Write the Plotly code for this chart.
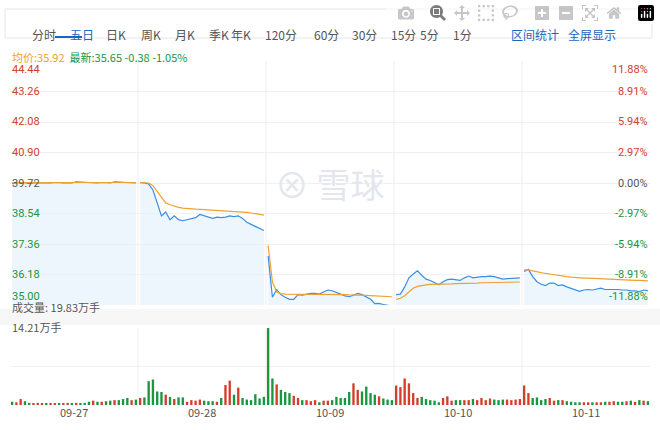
import plotly.graph_objects as go

# five trading days, 30 samples each
days = ["09-27", "09-28", "10-09", "10-10", "10-11"]
per_day = 30

price = [
    [39.70, 39.72, 39.74, 39.73, 39.70, 39.72, 39.72, 39.73, 39.71, 39.72, 39.74, 39.72, 39.72, 39.73, 39.72,
     39.76, 39.75, 39.74, 39.73, 39.74, 39.72, 39.74, 39.73, 39.72, 39.76, 39.75, 39.74, 39.73, 39.74, 39.72],
    [39.73, 39.72, 39.68, 39.45, 38.95, 38.45, 38.60, 38.30, 38.45, 38.30, 38.26, 38.30, 38.35, 38.38, 38.50,
     38.45, 38.38, 38.35, 38.40, 38.38, 38.40, 38.45, 38.42, 38.45, 38.35, 38.20, 38.12, 38.05, 37.98, 37.88],
    [36.90, 35.30, 35.60, 35.40, 35.30, 35.22, 35.22, 35.40, 35.38, 35.42, 35.45, 35.45, 35.42, 35.50, 35.58,
     35.55, 35.50, 35.42, 35.35, 35.32, 35.38, 35.45, 35.40, 35.32, 35.22, 35.05, 35.06, 35.02, 34.98, 34.96],
    [35.40, 35.42, 35.70, 36.05, 36.20, 36.32, 36.15, 36.00, 35.95, 35.85, 35.78, 35.90, 35.98, 36.00, 35.98,
     35.95, 36.05, 36.12, 36.05, 36.08, 36.10, 36.10, 36.12, 36.10, 36.05, 36.00, 36.02, 36.03, 36.04, 36.05],
    [36.30, 36.38, 36.10, 35.90, 35.80, 35.75, 35.85, 35.85, 35.75, 35.78, 35.70, 35.65, 35.58, 35.53, 35.58,
     35.60, 35.58, 35.62, 35.65, 35.60, 35.60, 35.62, 35.60, 35.58, 35.58, 35.55, 35.55, 35.52, 35.58, 35.56],
]
avg_price = [
    [39.74] * 30,
    [39.74, 39.74, 39.72, 39.62, 39.40, 39.15, 38.95, 38.88, 38.82, 38.78, 38.75, 38.73, 38.72, 38.71, 38.70,
     38.69, 38.68, 38.68, 38.67, 38.66, 38.65, 38.64, 38.63, 38.62, 38.60, 38.58, 38.56, 38.53, 38.51, 38.48],
    [37.30, 35.90, 35.50, 35.44, 35.42, 35.42, 35.42, 35.42, 35.42, 35.42, 35.42, 35.42, 35.41, 35.41, 35.41,
     35.41, 35.40, 35.40, 35.40, 35.39, 35.39, 35.38, 35.38, 35.37, 35.36, 35.35, 35.34, 35.33, 35.33, 35.32],
    [35.22, 35.26, 35.36, 35.50, 35.65, 35.72, 35.76, 35.78, 35.80, 35.80, 35.80, 35.81, 35.82, 35.82, 35.83,
     35.83, 35.84, 35.84, 35.85, 35.85, 35.86, 35.86, 35.86, 35.87, 35.87, 35.88, 35.88, 35.88, 35.89, 35.89],
    [36.36, 36.36, 36.32, 36.28, 36.24, 36.22, 36.20, 36.17, 36.14, 36.12, 36.10, 36.08, 36.06, 36.05, 36.04,
     36.04, 36.03, 36.02, 36.02, 36.01, 36.00, 36.00, 35.99, 35.98, 35.97, 35.96, 35.95, 35.95, 35.94, 35.93],
]
volume = [
    [0.6, 0.5, 1.1, 0.7, 0.4, 0.3, 0.4, 0.3, 0.3, 0.3, 0.3, 0.3, 0.3, 0.4, 0.3,
     0.4, 0.3, 0.4, 0.6, 0.8, 0.6, 0.6, 0.7, 0.8, 0.9, 0.9, 1.1, 1.3, 0.9, 1.0],
    [1.3, 1.4, 4.4, 4.7, 2.5, 2.4, 1.9, 1.5, 1.1, 1.4, 1.4, 0.6, 0.9, 0.8, 1.0,
     0.8, 0.7, 0.7, 0.6, 1.3, 3.7, 4.5, 1.9, 3.2, 1.3, 1.0, 0.9, 2.0, 1.2, 1.5],
    [14.2, 4.9, 3.8, 2.8, 2.4, 2.2, 1.7, 1.3, 0.9, 0.9, 0.7, 0.9, 0.5, 0.8, 0.8,
     0.9, 1.5, 1.3, 1.3, 2.4, 4.0, 2.8, 2.5, 3.4, 2.2, 1.9, 1.6, 1.2, 1.0, 0.9],
    [3.6, 3.3, 4.9, 4.0, 2.2, 1.3, 1.5, 1.1, 0.9, 0.8, 0.5, 1.3, 1.6, 0.8, 0.9,
     0.9, 0.9, 0.9, 1.1, 0.9, 1.3, 0.9, 1.2, 1.0, 0.9, 1.0, 1.0, 0.9, 1.0, 1.1],
    [3.6, 2.2, 1.3, 1.4, 0.9, 1.1, 1.3, 0.8, 0.9, 0.9, 0.7, 0.6, 0.5, 0.5, 0.5,
     0.5, 0.5, 0.5, 0.5, 0.6, 0.6, 0.7, 0.6, 0.6, 0.7, 0.8, 0.6, 0.9, 0.8, 0.7],
]
prev_close = 39.72
price_ticks = [44.44, 43.26, 42.08, 40.90, 39.72, 38.54, 37.36, 36.18, 35.00]
pct_ticks = ["11.88%", "8.91%", "5.94%", "2.97%", "0.00%", "-2.97%", "-5.94%", "-8.91%", "-11.88%"]
tabs = ["分时", "五日", "日K", "周K", "月K", "季K", "年K", "120分", "60分", "30分", "15分", "5分", "1分"]
tab_x = [30, 68, 104, 139, 173, 207, 241, 281, 326, 365, 403, 441, 474]

RED, GREEN, GRAY = "#d0402b", "#1a9641", "#555555"
BLUE, ORANGE = "#3a8ee6", "#f0a030"

fig = go.Figure()
flat_price, flat_x = [], []
for d in range(len(days)):
    xs = [d * per_day + i for i in range(per_day)]
    fig.add_trace(go.Scatter(x=xs, y=price[d], mode="lines", line=dict(color=BLUE, width=1.2),
                             fill="tozeroy", fillcolor="rgba(225,238,252,0.6)", yaxis="y",
                             hoverinfo="skip", showlegend=False))
    fig.add_trace(go.Scatter(x=xs, y=avg_price[d], mode="lines", line=dict(color=ORANGE, width=1.2),
                             yaxis="y", hoverinfo="skip", showlegend=False))
    flat_price += price[d]
    flat_x += xs

flat_vol = [v for day in volume for v in day]
colors = []
for i, p in enumerate(flat_price):
    ref = flat_price[i - 1] if i > 0 else prev_close
    colors.append(RED if p >= ref else GREEN)
fig.add_trace(go.Bar(x=flat_x, y=flat_vol, marker=dict(color=colors, line=dict(width=0)),
                     width=0.55, yaxis="y2", showlegend=False, hoverinfo="skip"))

n = per_day * len(days)
fig.update_layout(
    width=660, height=430, margin=dict(l=0, r=0, t=0, b=0),
    paper_bgcolor="white", plot_bgcolor="white",
    font=dict(family="Noto Sans CJK SC, sans-serif", size=11, color=GRAY),
    xaxis=dict(domain=[10 / 660, 650 / 660], range=[-0.5, n - 0.5], showticklabels=False,
               showgrid=False, zeroline=False, fixedrange=True),
    yaxis=dict(domain=[1 - 305 / 430, 1 - 61 / 430], range=[35.0, 44.44], tickvals=price_ticks,
               showticklabels=False, gridcolor="#f0f0f0", zeroline=False),
    yaxis2=dict(domain=[1 - 405 / 430, 1 - 328 / 430], range=[0, 14.21], tickvals=[7.1, 14.21],
                showticklabels=False, gridcolor="#f0f0f0", zeroline=False),
    bargap=0.3,
)

for k in range(1, len(days)):
    xb = k * per_day - 0.5
    for yr in ["y domain", "y2 domain"]:
        fig.add_shape(type="line", xref="x", yref=yr, x0=xb, x1=xb, y0=0, y1=1,
                      line=dict(color="#eeeeee", width=1), layer="below")

anns = []
for j, (v, pct) in enumerate(zip(price_ticks, pct_ticks)):
    c = RED if v > prev_close else (GRAY if v == prev_close else GREEN)
    ya = "bottom" if j == len(price_ticks) - 1 else ("top" if j == 0 else "middle")
    anns.append(dict(x=10 / 660, y=v, xref="paper", yref="y", text=f"{v:.2f}", showarrow=False,
                     xanchor="left", yanchor=ya, font=dict(color=c, size=11, family="Roboto")))
    anns.append(dict(x=650 / 660, y=v, xref="paper", yref="y", text=pct, showarrow=False,
                     xanchor="right", yanchor=ya, font=dict(color=c, size=11, family="Roboto")))
for d, lab in enumerate(days):
    anns.append(dict(x=d * per_day + per_day / 2 - 0.5, y=1 - 412 / 430, xref="x", yref="paper",
                     text=lab, showarrow=False, yanchor="middle", font=dict(size=11, color=GRAY)))
for t, xt in zip(tabs, tab_x):
    anns.append(dict(x=xt / 660, y=1 - 24 / 430, xref="paper", yref="paper", text=t, showarrow=False,
                     font=dict(size=12, color="#1967c2" if t == "五日" else GRAY)))
anns.append(dict(x=561 / 660, y=1 - 24 / 430, xref="paper", yref="paper", text="区间统计",
                 showarrow=False, font=dict(size=12, color="#1967c2")))
anns.append(dict(x=618 / 660, y=1 - 24 / 430, xref="paper", yref="paper", text="全屏显示",
                 showarrow=False, font=dict(size=12, color="#1967c2")))
anns.append(dict(x=10 / 660, y=1 - 47 / 430, xref="paper", yref="paper", xanchor="left",
                 text=f"<span style='color:{ORANGE}'>均价:35.92</span>  "
                      f"<span style='color:{GREEN}'>最新:35.65 -0.38 -1.05%</span>",
                 showarrow=False, font=dict(size=11)))
anns.append(dict(x=10 / 660, y=1 - 317 / 430, xref="paper", yref="paper", xanchor="left",
                 text="成交量: 19.83万手", showarrow=False, font=dict(size=11, color=GRAY)))
anns.append(dict(x=10 / 660, y=1 - 337 / 430, xref="paper", yref="paper", xanchor="left",
                 text="14.21万手", showarrow=False, font=dict(size=11, color=GRAY)))
anns.append(dict(x=330 / 660, y=1 - 183 / 430, xref="paper", yref="paper",
                 text="⊗ 雪球", showarrow=False, font=dict(size=34, color="#e3e7ed")))
fig.update_layout(annotations=anns)

# tab bar frame, active underline, volume label band
fig.add_shape(type="rect", xref="paper", yref="paper", x0=5 / 660, x1=652 / 660,
              y0=1 - 38 / 430, y1=1 - 9 / 430, line=dict(color="#e6e6e6", width=1), layer="below")
fig.add_shape(type="line", xref="paper", yref="paper", x0=55 / 660, x1=82 / 660,
              y0=1 - 37 / 430, y1=1 - 37 / 430, line=dict(color="#1967c2", width=2))
fig.add_shape(type="rect", xref="paper", yref="paper", x0=0, x1=1, y0=1 - 325 / 430,
              y1=1 - 309 / 430, fillcolor="#f7f7f7", line=dict(width=0), layer="below")

fig.write_html("out.html", post_script="document.body.style.margin='0';")
